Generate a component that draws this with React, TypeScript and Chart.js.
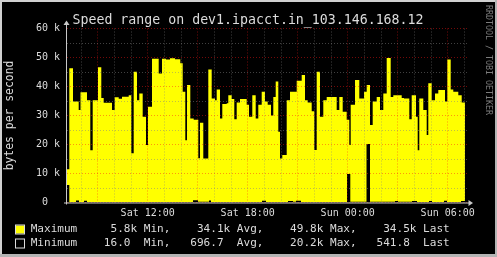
import React, { useEffect, useRef } from 'react';
import { Chart, registerables } from 'chart.js';

Chart.register(...registerables);

// ---- data (hours since Sat 00:00, bytes per second) ----
const MAX_HOURS = [
  7.158, 7.296, 7.518, 7.86, 7.968, 8.358, 8.556, 8.7, 9.018, 9.216, 9.36, 9.858, 10.02, 10.26, 10.458,
  10.86, 11.016, 11.16, 11.358, 11.496, 11.7, 11.898, 12.018, 12.258, 12.66, 12.858, 13.098, 13.338,
  13.638, 13.956, 14.1, 14.256, 14.358, 14.556, 14.76, 15.036, 15.138, 15.336, 15.636, 15.84, 16.038,
  16.14, 16.338, 16.476, 16.74, 16.836, 17.04, 17.196, 17.34, 17.538, 17.94, 18.078, 18.276, 18.48,
  18.636, 18.84, 19.038, 19.2, 19.398, 19.536, 19.68, 19.836, 19.938, 20.076, 20.34, 20.538, 20.94,
  21.24, 21.438, 21.6, 21.84, 21.996, 22.14, 22.338, 22.536, 22.74, 23.34, 23.496, 23.7, 23.94, 24.096,
  24.18, 24.438, 24.696, 24.978, 25.14, 25.338, 25.5, 25.74, 25.938, 26.136, 26.34, 26.58, 26.736,
  27.24, 27.378, 27.696, 27.84, 28.098, 28.2, 28.296, 28.536, 28.74, 28.836, 29.04, 29.238, 29.436,
  29.838, 29.976, 30.18, 30.336, 30.636, 30.84, 31.038,
];
const MAX_VALUES = [
  11500, 46300, 34800, 31900, 38000, 35300, 18000, 35300, 46600, 36000, 34400, 31900, 36300, 35800, 36500,
  37000, 17000, 45100, 35300, 37600, 29600, 19800, 33000, 49600, 44500, 49600, 49300, 49700,
  49400, 48000, 38200, 21500, 40500, 29000, 28500, 15300, 27500, 15200, 45900, 35900, 35300,
  39000, 29000, 34000, 34200, 37000, 35700, 28700, 34500, 35700, 33700, 29600, 37000, 29000,
  33700, 38200, 34800, 33700, 30000, 36400, 41700, 24400, 15200, 16400, 35300, 38200, 42000,
  44000, 35300, 34500, 31500, 18100, 45100, 29600, 35300, 36400, 31900, 36400, 31300, 28500, 19800,
  33700, 42200, 35900, 38200, 40500, 26700, 34800, 36400, 31900, 37600, 49800, 36400, 37000,
  36000, 35900, 28700, 37000, 29600, 18000, 35900, 31900, 23300, 41100, 35300, 37600, 38800,
  34800, 49300, 39000, 38200, 37000, 34500, 34500,
];
const MIN_HOURS = [
  7.158, 7.296, 7.698, 7.878, 8.178, 8.358, 14.718, 15.018, 15.678, 15.798, 18.858, 19.098, 20.418,
  20.718, 20.898, 21.198, 23.958, 24.156, 25.128, 25.338, 26.838, 27.018, 27.858, 28.158, 28.878,
  29.058, 29.778, 29.958, 30.798, 31.038,
];
const MIN_VALUES = [
  6000, 200, 700, 200, 600, 200, 800, 300, 700, 200, 600, 200, 500,
  300, 600, 200, 9800, 300, 20200, 300, 500, 300, 500, 200, 500,
  200, 600, 200, 540, 540,
];

const X_START = 7.158;
const X_END = 31.158;
const X_GRID_HOURS = [8, 9, 10, 11, 12, 13, 14, 15, 16, 17, 18, 19, 20, 21, 22, 23, 24, 25, 26, 27, 28, 29, 30, 31];
const X_LABEL_HOURS = [12, 18, 24, 30];
const X_LABELS = ['Sat 12:00', 'Sat 18:00', 'Sun 00:00', 'Sun 06:00'];
const Y_MAX = 60000;
const Y_STEP = 5000;

const TITLE = 'Speed range on dev1.ipacct.in_103.146.168.12';
const Y_TITLE = 'bytes per second';
const WATERMARK = 'RRDTOOL / TOBI OETIKER';
const LEGEND_NAMES = ['Maximum', 'Minimum'];
const LEGEND_COLORS = ['#ffff00', '#000000'];
const LEGEND_STATS = [
  ['5.8k', '34.1k', '49.8k', '34.5k'],
  ['16.0 ', '696.7 ', '20.2k', '541.8 '],
];

const MONO = "'DejaVu Sans Mono', monospace";
const TEXT = '#dcdcdc';
const MINOR_GRID = 'rgba(130,130,130,0.5)';
const MAJOR_GRID = 'rgba(255,20,20,0.45)';

function legendLine(i: number) {
  const s = LEGEND_STATS[i];
  return (
    LEGEND_NAMES[i].padEnd(10) +
    s[0].padStart(6) + ' Min,' +
    s[1].padStart(9) + ' Avg,' +
    s[2].padStart(9) + ' Max,' +
    s[3].padStart(9) + ' Last'
  );
}

const decorPlugin = {
  id: 'rrdDecor',
  beforeDraw(chart: any) {
    const { ctx, width, height } = chart;
    ctx.save();
    ctx.fillStyle = '#000000';
    ctx.fillRect(0, 0, width, height);
    ctx.fillStyle = '#d0d0d0';
    ctx.fillRect(0, 0, width, 2);
    ctx.fillRect(0, 0, 2, height);
    ctx.fillStyle = '#b4b4b4';
    ctx.fillRect(width - 2, 0, 2, height);
    ctx.fillRect(0, height - 3, width, 3);
    ctx.restore();
  },
  afterDraw(chart: any) {
    const { ctx, chartArea } = chart;
    const { left, right, top, bottom } = chartArea;
    ctx.save();
    // axes with arrows
    ctx.strokeStyle = '#c8c8c8';
    ctx.fillStyle = '#c8c8c8';
    ctx.lineWidth = 1;
    ctx.beginPath();
    ctx.moveTo(left - 0.5, bottom + 2);
    ctx.lineTo(left - 0.5, top - 4);
    ctx.moveTo(left - 3, bottom + 0.5);
    ctx.lineTo(right + 2, bottom + 0.5);
    ctx.stroke();
    ctx.beginPath();
    ctx.moveTo(left - 3.5, top - 3.5);
    ctx.lineTo(left + 2.5, top - 3.5);
    ctx.lineTo(left - 0.5, top - 8);
    ctx.closePath();
    ctx.fill();
    ctx.beginPath();
    ctx.moveTo(right + 1.5, bottom - 2.5);
    ctx.lineTo(right + 1.5, bottom + 3.5);
    ctx.lineTo(right + 6, bottom + 0.5);
    ctx.closePath();
    ctx.fill();

    // title
    ctx.fillStyle = TEXT;
    ctx.font = `13.25px ${MONO}`;
    ctx.textAlign = 'center';
    ctx.textBaseline = 'alphabetic';
    ctx.fillText(TITLE, 248, 23.5);

    // y title
    ctx.save();
    ctx.translate(10.5, (top + bottom) / 2);
    ctx.rotate(-Math.PI / 2);
    ctx.font = `11.4px ${MONO}`;
    ctx.textAlign = 'center';
    ctx.textBaseline = 'middle';
    ctx.fillText(Y_TITLE, 0, 0);
    ctx.restore();

    // watermark
    ctx.save();
    ctx.translate(488.5, 60);
    ctx.rotate(Math.PI / 2);
    ctx.font = `8.3px ${MONO}`;
    ctx.fillStyle = '#7c7c7c';
    ctx.textAlign = 'center';
    ctx.textBaseline = 'middle';
    ctx.fillText(WATERMARK, 0, 0);
    ctx.restore();

    // legend
    const rowsY = [229.5, 243.5];
    ctx.font = `11.05px ${MONO}`;
    ctx.textAlign = 'left';
    ctx.textBaseline = 'middle';
    for (let i = 0; i < LEGEND_NAMES.length; i++) {
      const y = rowsY[i];
      ctx.fillStyle = LEGEND_COLORS[i];
      ctx.fillRect(15, y - 4, 9, 8);
      ctx.strokeStyle = TEXT;
      ctx.strokeRect(15.5, y - 4.5, 9, 9);
      ctx.fillStyle = TEXT;
      ctx.fillText(legendLine(i), 30.7, y);
    }
    ctx.restore();
  },
};

export default function App() {
  const ref = useRef<HTMLCanvasElement | null>(null);
  useEffect(() => {
    document.body.style.margin = '0';
    const canvas = ref.current;
    if (!canvas) return;
    const maxPts = MAX_HOURS.map((h, i) => ({ x: h, y: MAX_VALUES[i] }));
    const minPts = MIN_HOURS.map((h, i) => ({ x: h, y: MIN_VALUES[i] }));
    const chart = new Chart(canvas, {
      type: 'line',
      data: {
        datasets: [
          {
            label: 'Minimum',
            data: minPts,
            stepped: true,
            fill: 'origin',
            backgroundColor: '#000000',
            borderColor: 'rgba(0,0,0,0)',
            borderWidth: 0,
            pointRadius: 0,
            order: 0,
          },
          {
            label: 'Maximum',
            data: maxPts,
            stepped: true,
            fill: 'origin',
            backgroundColor: '#ffff00',
            borderColor: 'rgba(0,0,0,0)',
            borderWidth: 0,
            pointRadius: 0,
            order: 1,
          },
        ],
      },
      options: {
        animation: false,
        responsive: false,
        devicePixelRatio: 1,
        layout: { padding: { top: 28.5, right: 30, bottom: 0, left: 0 } },
        plugins: { legend: { display: false }, tooltip: { enabled: false }, title: { display: false } },
        scales: {
          x: {
            type: 'linear',
            min: X_START,
            max: X_END,
            z: 1,
            afterFit: (s: any) => { s.height = 54.5; },
            afterBuildTicks: (s: any) => { s.ticks = X_GRID_HOURS.map((v) => ({ value: v })); },
            grid: {
              z: 1,
              drawTicks: false,
              lineWidth: 1,
              color: (c: any) => (c.tick && c.tick.value % 3 === 0 ? MAJOR_GRID : MINOR_GRID),
            },
            border: { display: false, dash: [1, 2] },
            ticks: {
              autoSkip: false,
              maxRotation: 0,
              padding: 5,
              color: TEXT,
              font: { family: MONO, size: 10 },
              callback: (v: any) => {
                const idx = X_LABEL_HOURS.indexOf(Number(v));
                return idx >= 0 ? X_LABELS[idx] : '';
              },
            },
          },
          y: {
            type: 'linear',
            min: 0,
            max: Y_MAX,
            z: 1,
            afterFit: (s: any) => { s.width = 67; },
            grid: {
              z: 1,
              drawTicks: false,
              lineWidth: 1,
              color: (c: any) => (c.tick && c.tick.value % 10000 === 0 ? MAJOR_GRID : MINOR_GRID),
            },
            border: { display: false, dash: [1, 2] },
            ticks: {
              stepSize: Y_STEP,
              autoSkip: false,
              padding: 7,
              color: TEXT,
              font: { family: MONO, size: 10 },
              callback: (v: any) => {
                const n = Number(v);
                if (n % 10000 !== 0) return '';
                return n === 0 ? '0  ' : `${n / 1000} k`;
              },
            },
          },
        },
      },
      plugins: [decorPlugin],
    } as any);
    return () => chart.destroy();
  }, []);
  return (
    <div style={{ position: 'absolute', left: 0, top: 0, width: 497, height: 257 }}>
      <canvas ref={ref} width={497} height={257} style={{ display: 'block', width: 497, height: 257 }} />
    </div>
  );
}
